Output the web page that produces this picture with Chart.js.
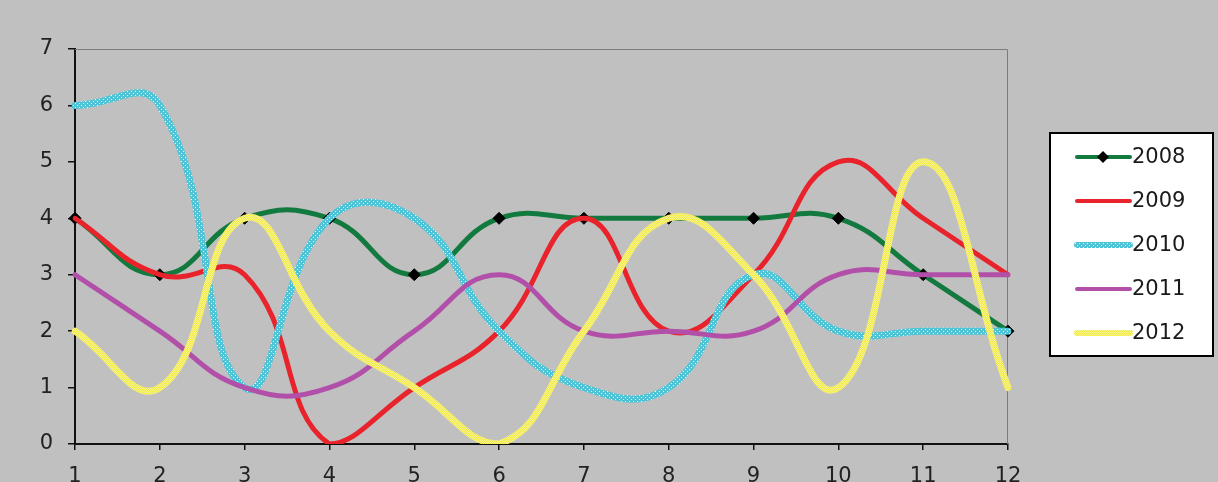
<!DOCTYPE html>
<html>
<head>
<meta charset="utf-8">
<title>2008–2012</title>
<script src="https://cdn.jsdelivr.net/npm/chart.js@4.4.1/dist/chart.umd.min.js"></script>
<style>
  html, body { margin: 0; padding: 0; background: #c0c0c0; }
  #wrap { width: 1218px; height: 482px; position: relative; }
  canvas { display: block; }
</style>
</head>
<body>
<div id="wrap"><canvas id="c" width="1218" height="482"></canvas></div>
<script>
// Month index along the x axis
const categories = ['1', '2', '3', '4', '5', '6', '7', '8', '9', '10', '11', '12'];

// Yearly series
const series2008 = [4, 3, 4, 4, 3, 4, 4, 4, 4, 4, 3, 2];
const series2009 = [4, 3, 3, 0, 1, 2, 4, 2, 3, 5, 4, 3];
const series2010 = [6, 6, 1, 4, 4, 2, 1, 1, 3, 2, 2, 2];
const series2011 = [3, 2, 1, 1, 2, 3, 2, 2, 2, 3, 3, 3];
const series2012 = [2, 1, 4, 2, 1, 0, 2, 4, 3, 1, 5, 1];

const seriesNames = ['2008', '2009', '2010', '2011', '2012'];

// Y axis range
const yMin = 0;
const yMax = 7;

const FONT = '"DejaVu Sans", "Liberation Sans", Arial, sans-serif';
const FONT_SIZE = 21;

// Cyan line with a fine white dot texture
function dottedCyan() {
  const p = document.createElement('canvas');
  p.width = 4; p.height = 4;
  const g = p.getContext('2d');
  g.fillStyle = '#4ec5d7';
  g.fillRect(0, 0, 4, 4);
  g.fillStyle = '#ffffff';
  g.fillRect(1, 1, 1, 1);
  g.fillRect(3, 3, 1, 1);
  return g.createPattern(p, 'repeat');
}

// Yellow line with a light checker texture
function texturedYellow() {
  const p = document.createElement('canvas');
  p.width = 2; p.height = 2;
  const g = p.getContext('2d');
  g.fillStyle = '#efe846';
  g.fillRect(0, 0, 2, 2);
  g.fillStyle = '#f8f48e';
  g.fillRect(0, 0, 1, 1);
  g.fillRect(1, 1, 1, 1);
  return g.createPattern(p, 'repeat');
}

const styles = [
  { color: '#127a3e', width: 5, marker: true },
  { color: '#e8232b', width: 5 },
  { color: dottedCyan(), width: 7 },
  { color: '#b14fa9', width: 5 },
  { color: texturedYellow(), width: 7 }
];

const allSeries = [series2008, series2009, series2010, series2011, series2012];

const datasets = allSeries.map((data, i) => ({
  label: seriesNames[i],
  data: data,
  borderColor: styles[i].color,
  backgroundColor: '#000000',
  borderWidth: styles[i].width,
  tension: 0.45,
  fill: false,
  pointStyle: 'rectRot',
  pointRadius: styles[i].marker ? 6 : 0,
  pointHoverRadius: styles[i].marker ? 6 : 0,
  pointBackgroundColor: '#000000',
  pointBorderColor: '#000000',
  pointBorderWidth: 1,
  borderCapStyle: 'round',
  borderJoinStyle: 'round',
  order: allSeries.length - i
}));

// Thin gray frame on the top and right of the plot area
const plotFrame = {
  id: 'plotFrame',
  beforeDatasetsDraw(chart) {
    const { ctx, chartArea: a } = chart;
    ctx.save();
    ctx.strokeStyle = '#7c7c7c';
    ctx.lineWidth = 1;
    ctx.beginPath();
    ctx.moveTo(a.left, a.top + 0.5);
    ctx.lineTo(a.right - 0.5, a.top + 0.5);
    ctx.lineTo(a.right - 0.5, a.bottom);
    ctx.stroke();
    ctx.restore();
  }
};

// Boxed legend on the right
const boxLegend = {
  id: 'boxLegend',
  afterDraw(chart) {
    const { ctx } = chart;
    const box = { x: 1050, y: 133, w: 163, h: 223 };
    ctx.save();
    ctx.fillStyle = '#ffffff';
    ctx.fillRect(box.x, box.y, box.w, box.h);
    ctx.strokeStyle = '#000000';
    ctx.lineWidth = 2;
    ctx.strokeRect(box.x, box.y, box.w, box.h);
    const rowStart = box.y + 24;
    const rowGap = 44;
    chart.data.datasets.forEach((ds, i) => {
      const y = rowStart + i * rowGap;
      const st = styles[i];
      ctx.strokeStyle = st.color;
      ctx.lineWidth = st.width - 1;
      ctx.lineCap = 'round';
      ctx.beginPath();
      ctx.moveTo(1077, y);
      ctx.lineTo(1130, y);
      ctx.stroke();
      if (st.marker) {
        ctx.fillStyle = '#000000';
        ctx.beginPath();
        ctx.moveTo(1103, y - 6);
        ctx.lineTo(1109, y);
        ctx.lineTo(1103, y + 6);
        ctx.lineTo(1097, y);
        ctx.closePath();
        ctx.fill();
      }
      ctx.fillStyle = '#1a1a1a';
      ctx.font = FONT_SIZE + 'px ' + FONT;
      ctx.textAlign = 'left';
      ctx.textBaseline = 'middle';
      ctx.fillText(ds.label, 1132, y + 1);
    });
    ctx.restore();
  }
};

new Chart(document.getElementById('c'), {
  type: 'line',
  data: { labels: categories, datasets: datasets },
  plugins: [plotFrame, boxLegend],
  options: {
    responsive: false,
    animation: false,
    events: [],
    layout: { padding: { left: 0, top: 49, right: 210, bottom: 0 } },
    plugins: {
      legend: { display: false },
      tooltip: { enabled: false },
      title: { display: false }
    },
    scales: {
      x: {
        type: 'category',
        offset: false,
        afterFit(s) { s.height = 38; },
        grid: {
          drawOnChartArea: false,
          drawTicks: true,
          tickLength: 6,
          color: '#111111',
          lineWidth: 1.5
        },
        border: { display: true, color: '#111111', width: 2 },
        ticks: {
          color: '#222222',
          font: { family: FONT, size: FONT_SIZE },
          padding: 14,
          maxRotation: 0,
          autoSkip: false
        }
      },
      y: {
        min: yMin,
        max: yMax,
        afterFit(s) { s.width = 75; },
        grid: {
          drawOnChartArea: false,
          drawTicks: true,
          tickLength: 7,
          color: '#111111',
          lineWidth: 1.5
        },
        border: { display: true, color: '#111111', width: 2 },
        ticks: {
          stepSize: 1,
          color: '#222222',
          font: { family: FONT, size: FONT_SIZE },
          padding: 15
        }
      }
    }
  }
});
</script>
</body>
</html>
